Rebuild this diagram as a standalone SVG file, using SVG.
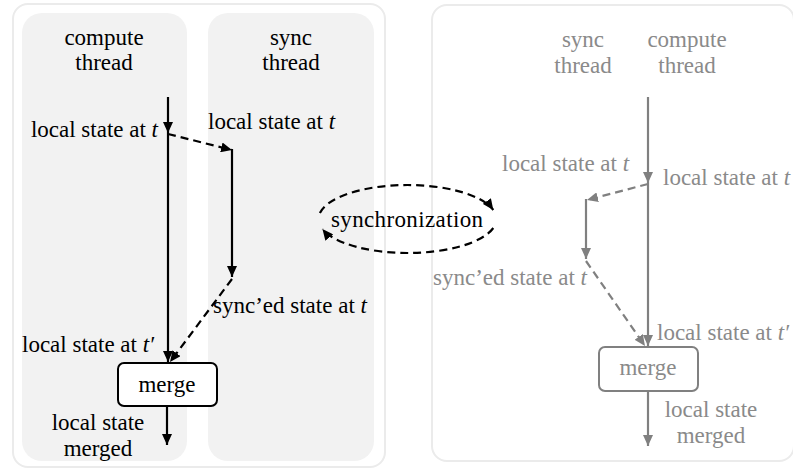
<svg xmlns="http://www.w3.org/2000/svg" width="793" height="469" viewBox="0 0 793 469">
<style>
text{font-family:"Liberation Serif","Times New Roman",serif;font-size:23px;fill:#000}
.g text,text.g{fill:#8a8a8a}
.c{text-anchor:middle}
.e{text-anchor:end}
.it{font-style:italic}
.frame{fill:#fff;stroke:#ebebeb;stroke-width:2}
.col{fill:#f2f2f2;stroke:none}
.ln{fill:none;stroke:#000;stroke-width:2.2}
.lg{fill:none;stroke:#808080;stroke-width:2.2}
.d{stroke-dasharray:8 5}
.box{fill:#fff;stroke:#000;stroke-width:2}
.boxg{fill:#fff;stroke:#808080;stroke-width:2}
</style>
<defs>
<marker id="ah" markerUnits="userSpaceOnUse" markerWidth="12" markerHeight="10" refX="11" refY="5" orient="auto" viewBox="0 0 12 10">
<path d="M0,0 L11,5 L0,10 z" fill="#000"/>
</marker>
<marker id="ahg" markerUnits="userSpaceOnUse" markerWidth="12" markerHeight="10" refX="11" refY="5" orient="auto" viewBox="0 0 12 10">
<path d="M0,0 L11,5 L0,10 z" fill="#808080"/>
</marker>
</defs>

<g id="left-panel">
<rect class="frame" x="13" y="4" width="372" height="463" rx="15"/>
<rect class="col" x="22" y="13" width="165" height="448" rx="20"/>
<rect class="col" x="208" y="13" width="166" height="448" rx="20"/>
</g>
<g id="right-panel">
<rect class="frame" x="432" y="5" width="362" height="456" rx="15"/>
</g>

<g id="connectors">
<path class="ln" d="M168,97 V133" marker-end="url(#ah)"/>
<path class="ln" d="M168,133 V362" marker-end="url(#ah)"/>
<path class="ln d" d="M168,134 L232,150" marker-end="url(#ah)"/>
<path class="ln" d="M232,149 V277" marker-end="url(#ah)"/>
<path class="ln d" d="M232,279 L170,362" marker-end="url(#ah)"/>
<path class="ln" d="M167,406 V445" marker-end="url(#ah)"/>

<path class="ln d" d="M319.9,213 A89,34 0 0 1 493.3,210" marker-end="url(#ah)"/>
<path class="ln d" d="M493.3,228 A89,34 0 0 1 322.4,229" marker-end="url(#ah)"/>

<path class="lg" d="M648,97 V183" marker-end="url(#ahg)"/>
<path class="lg" d="M648,183 V346" marker-end="url(#ahg)"/>
<path class="lg d" d="M648,184 L587,200" marker-end="url(#ahg)"/>
<path class="lg" d="M586,199 V259" marker-end="url(#ahg)"/>
<path class="lg d" d="M586,261 L645,346" marker-end="url(#ahg)"/>
<path class="lg" d="M648,391 V446" marker-end="url(#ahg)"/>
</g>

<g id="compute-thread-left">
<text class="c" x="104" y="45">compute</text>
<text class="c" x="104" y="70">thread</text>
<text class="e" x="158" y="137">local state at <tspan class="it">t</tspan></text>
<text x="22" y="352">local state at <tspan class="it">t′</tspan></text>
</g>
<g id="sync-thread-left">
<text class="c" x="291" y="45">sync</text>
<text class="c" x="291" y="70">thread</text>
<text x="208" y="129">local state at <tspan class="it">t</tspan></text>
<text x="213" y="313">sync’ed state at <tspan class="it">t</tspan></text>
</g>
<g id="merge-left">
<rect class="box" x="118" y="363" width="99" height="43" rx="6"/>
<text class="c" x="167" y="392">merge</text>
<text class="c" x="98" y="430">local state</text>
<text class="c" x="98" y="456">merged</text>
</g>
<g id="synchronization">
<text class="c" x="407" y="227" textLength="152" lengthAdjust="spacing">synchronization</text>
</g>

<g id="sync-thread-right" class="g">
<text class="c" x="583" y="47">sync</text>
<text class="c" x="583" y="73">thread</text>
<text x="502" y="171">local state at <tspan class="it">t</tspan></text>
<text x="433" y="285">sync’ed state at <tspan class="it">t</tspan></text>
</g>
<g id="compute-thread-right" class="g">
<text class="c" x="687" y="47">compute</text>
<text class="c" x="687" y="73">thread</text>
<text x="663" y="185">local state at <tspan class="it">t</tspan></text>
<text x="657" y="340">local state at <tspan class="it">t′</tspan></text>
</g>
<g id="merge-right" class="g">
<rect class="boxg" x="599" y="347" width="99" height="44" rx="6"/>
<text class="c" x="648" y="375">merge</text>
<text class="c" x="711" y="417">local state</text>
<text class="c" x="711" y="443">merged</text>
</g>
</svg>
